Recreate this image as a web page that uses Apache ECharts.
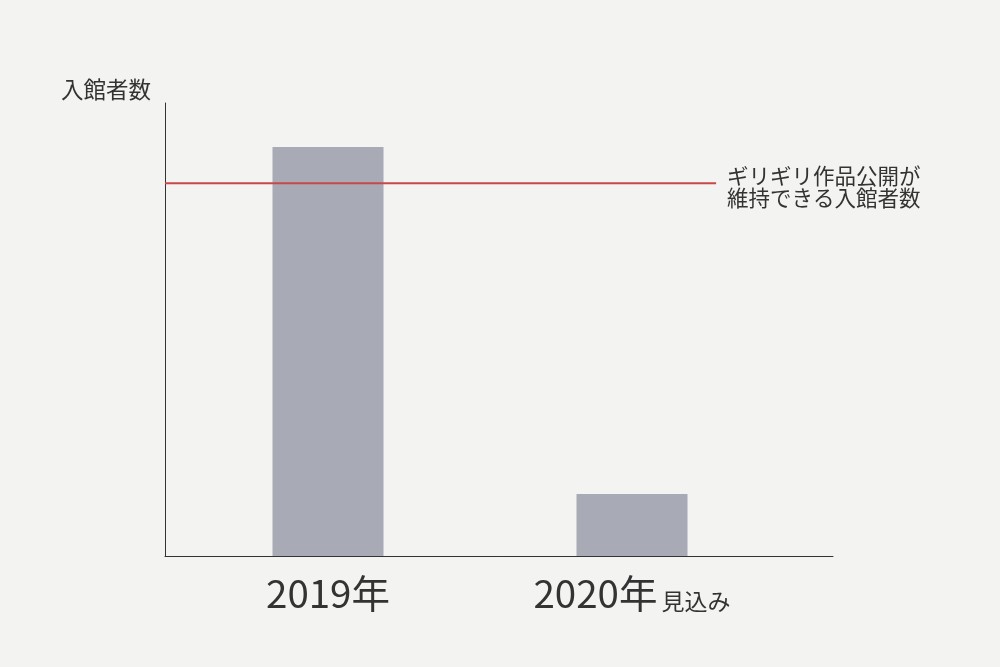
<!DOCTYPE html>
<html>
<head>
<meta charset="utf-8">
<script src="https://cdn.jsdelivr.net/npm/echarts@6/dist/echarts.min.js"></script>
<style>
html,body{margin:0;padding:0;background:#f3f3f1;}
#c{width:1000px;height:667px;}
</style>
</head>
<body>
<div id="c"></div>
<script>
const categories = ['2019年', '2020年'];
const categorySuffix = ['', '見込み'];
const visitors = [90.3, 13.7];
const thresholdValue = 82.3;
const thresholdExtent = [0, 82.5];
const thresholdLabel = 'ギリギリ作品公開が\n維持できる入館者数';
const yAxisName = '入館者数';

const FONT = '"Noto Sans CJK JP", "Noto Sans", sans-serif';
const TEXT = '#333333';

const chart = echarts.init(document.getElementById('c'), null, {renderer: 'canvas'});
chart.setOption({
  animation: false,
  backgroundColor: '#f3f3f1',
  textStyle: {fontFamily: FONT, color: TEXT},
  grid: [
    {left: 176, right: 216, top: 103, bottom: 111},
    {left: 165, right: 167, top: 103, bottom: 111}
  ],
  xAxis: [
    {
      type: 'category', gridIndex: 0, data: categories,
      axisLine: {show: false}, axisTick: {show: false},
      axisLabel: {
        margin: 19,
        formatter: function (v, i) {
          const s = categorySuffix[i];
          return '{big|' + v + '}' + (s ? '{sp| }{small|' + s + '}' : '');
        },
        rich: {
          big: {fontSize: 38.5, fontFamily: FONT, color: TEXT, lineHeight: 38, verticalAlign: 'bottom'},
          sp: {fontSize: 18, lineHeight: 26, verticalAlign: 'bottom'},
          small: {fontSize: 23, fontFamily: FONT, color: TEXT, lineHeight: 26, verticalAlign: 'bottom'}
        }
      }
    },
    {
      type: 'value', gridIndex: 1, min: 0, max: 100,
      axisLine: {show: true, lineStyle: {color: '#333', width: 1}},
      axisTick: {show: false}, axisLabel: {show: false}, splitLine: {show: false}
    }
  ],
  yAxis: [
    {type: 'value', gridIndex: 0, min: 0, max: 100, show: false},
    {
      type: 'value', gridIndex: 1, min: 0, max: 100,
      name: yAxisName, nameLocation: 'end', nameGap: 2,
      nameTextStyle: {fontSize: 22.5, fontFamily: FONT, color: TEXT, align: 'right', verticalAlign: 'bottom', padding: [0, 14, 0, 0]},
      axisLine: {show: true, lineStyle: {color: '#333', width: 1}},
      axisTick: {show: false}, axisLabel: {show: false}, splitLine: {show: false}
    }
  ],
  series: [
    {
      type: 'bar', xAxisIndex: 0, yAxisIndex: 0, data: visitors,
      barWidth: 111, itemStyle: {color: '#a8aab5'}
    },
    {
      type: 'line', xAxisIndex: 1, yAxisIndex: 1,
      data: thresholdExtent.map(x => [x, thresholdValue]),
      symbol: 'none', lineStyle: {color: '#c8474b', width: 2},
      z: 5,
      endLabel: {
        show: true, formatter: thresholdLabel, distance: 11, offset: [0, 4],
        fontSize: 21.5, lineHeight: 22, fontFamily: FONT, color: TEXT, align: 'left'
      }
    }
  ]
});
</script>
</body>
</html>
